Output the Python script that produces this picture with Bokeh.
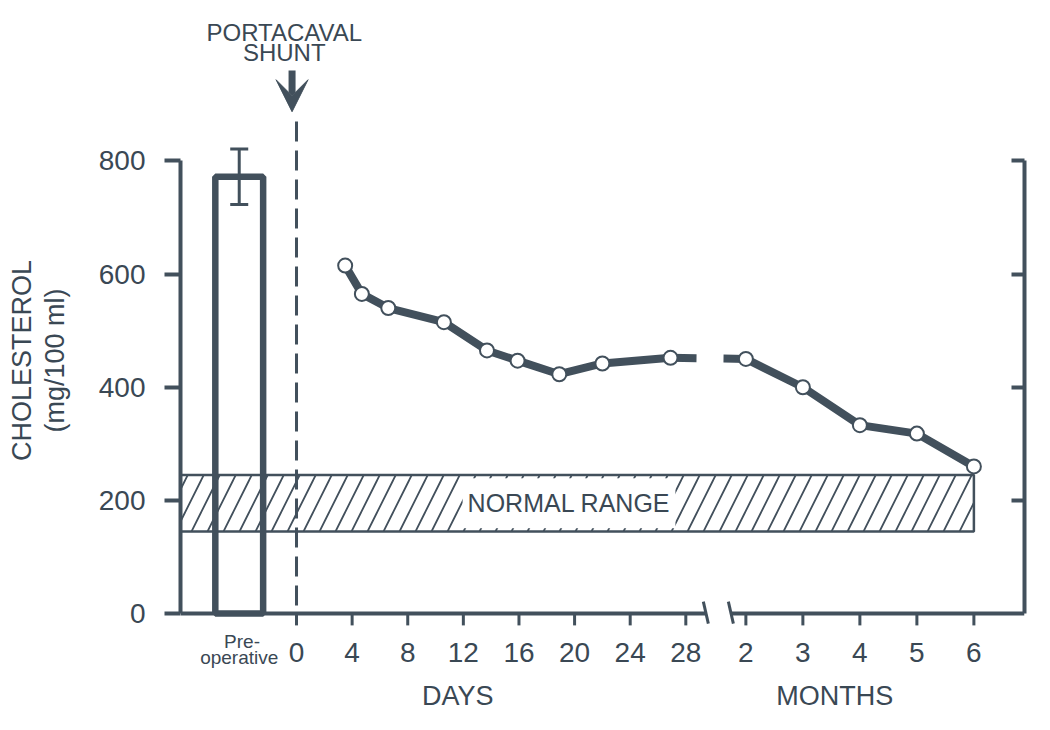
import math
from bokeh.plotting import figure
from bokeh.models import (Range1d, LinearAxis, FixedTicker, Label, Arrow, VeeHead,
                          Whisker, TeeHead, ColumnDataSource, Title)
from bokeh.core.properties import value
from bokeh.embed import file_html
from bokeh.resources import INLINE

# ---------------- data ----------------
PREOP_MEAN = 772
PREOP_SE = 49
DAYS = [3.5, 4.7, 6.6, 10.6, 13.7, 15.9, 18.9, 22.0, 26.9]
DAY_CHOL = [615, 565, 540, 515, 465, 447, 423, 442, 452]
MONTHS = [2, 3, 4, 5, 6]
MONTH_CHOL = [450, 400, 333, 318, 260]
NORMAL_LOW = 145
NORMAL_HIGH = 245
DAY_TICKS = [0, 4, 8, 12, 16, 20, 24, 28]
MONTH_TICKS = [2, 3, 4, 5, 6]
Y_TICKS = [0, 200, 400, 600, 800]
SHUNT_DAY = 0

# ---------------- layout / styling ----------------
FONT = "Liberation Sans"
INK = "#42505c"
TEXT = "#3a4854"

PREOP_POS = -1.03
MONTH_ORIGIN = 8.08
MONTH_STEP = 1.025
BREAK_L, BREAK_R = 7.36, 7.81
X_START, X_END = -2.086, 13.09
Y_START, Y_END = -189.1, 1083.6


def day_pos(d):
    return d / 4.0


def month_pos(m):
    return MONTH_ORIGIN + (m - 2) * MONTH_STEP


day_x = [day_pos(d) for d in DAYS]
month_x = [month_pos(m) for m in MONTHS]

p = figure(width=1040, height=720,
           x_range=Range1d(X_START, X_END), y_range=Range1d(Y_START, Y_END),
           output_backend="svg", toolbar_location=None,
           x_axis_location=None, y_axis_location="left",
           min_border_left=180, min_border_right=16,
           min_border_top=0, min_border_bottom=0)
p.outline_line_color = None
p.grid.visible = False
p.background_fill_color = "white"
p.border_fill_color = "white"

# ---- left axis ----
ya = p.yaxis[0]
ya.ticker = FixedTicker(ticks=Y_TICKS)
ya.bounds = (0, 800)
ya.axis_line_color = INK
ya.axis_line_width = 4
ya.major_tick_line_color = INK
ya.major_tick_line_width = 4
ya.major_tick_out = 16
ya.major_tick_in = 0
ya.minor_tick_line_color = None
ya.major_label_standoff = 19
ya.major_label_text_font = FONT
ya.major_label_text_font_size = "28px"
ya.major_label_text_color = TEXT
ya.axis_label = "(mg/100 ml)"
ya.axis_label_standoff = 26
ya.axis_label_text_font = FONT
ya.axis_label_text_font_size = "27px"
ya.axis_label_text_font_style = "normal"
ya.axis_label_text_color = TEXT

# outer line of the y-axis title
p.add_layout(Title(text="CHOLESTEROL", align="center", standoff=0,
                   text_font=FONT, text_font_size="27px", text_font_style="normal",
                   text_color=TEXT), "left")

# ---- right axis (unlabelled) ----
ra = LinearAxis(ticker=FixedTicker(ticks=Y_TICKS[1:]), bounds=(0, 800))
ra.axis_line_color = INK
ra.axis_line_width = 4
ra.major_tick_line_color = INK
ra.major_tick_line_width = 4
ra.major_tick_in = 13
ra.major_tick_out = 0
ra.minor_tick_line_color = None
ra.major_label_overrides = {t: "" for t in Y_TICKS[1:]}
ra.major_label_text_font_size = "8px"
p.add_layout(ra, "right")

# ---- bottom axis (with a break), drawn through the data scales ----
tick_pos = [day_pos(d) for d in DAY_TICKS] + [month_pos(m) for m in MONTH_TICKS]
tick_lab = [str(d) for d in DAY_TICKS] + [str(m) for m in MONTH_TICKS]
p.segment(x0=[X_START, BREAK_R], y0=[0, 0], x1=[BREAK_L, X_END], y1=[0, 0],
          line_color=INK, line_width=4)
p.segment(x0=tick_pos, y0=[0] * len(tick_pos), x1=tick_pos, y1=[-21] * len(tick_pos),
          line_color=INK, line_width=3)
p.segment(x0=[BREAK_L - 0.045, BREAK_R - 0.045], y0=[21, 21],
          x1=[BREAK_L + 0.045, BREAK_R + 0.045], y1=[-18, -18],
          line_color=INK, line_width=3)
p.text(x=tick_pos, y=[-69] * len(tick_pos), text=tick_lab,
       text_font=value(FONT), text_font_size="28px", text_color=TEXT,
       text_align="center", text_baseline="middle")

# ---- normal range ----
p.quad(left=[X_START], right=[month_pos(MONTHS[-1])], bottom=[NORMAL_LOW], top=[NORMAL_HIGH],
       fill_color="white", hatch_pattern="/", hatch_color=INK, hatch_weight=1.8,
       hatch_scale=32, line_color=INK, line_width=2.5)

# ---- pre-operative bar ----
p.vbar(x=[PREOP_POS], top=[PREOP_MEAN], bottom=0, width=0.86,
       fill_color=None, line_color=INK, line_width=6.5)
err_src = ColumnDataSource(dict(base=[PREOP_POS], lower=[PREOP_MEAN - PREOP_SE],
                                upper=[PREOP_MEAN + PREOP_SE]))
p.add_layout(Whisker(base="base", lower="lower", upper="upper", source=err_src,
                     line_color=INK, line_width=3,
                     upper_head=TeeHead(size=18, line_color=INK, line_width=3),
                     lower_head=TeeHead(size=18, line_color=INK, line_width=3)))

# ---- shunt marker ----
p.segment(x0=[SHUNT_DAY], y0=[14], x1=[SHUNT_DAY], y1=[870],
          line_color=INK, line_width=3, line_dash="20 9")
p.add_layout(Arrow(end=VeeHead(size=32, fill_color=INK, line_color=INK, line_width=1),
                   x_start=SHUNT_DAY - 0.08, y_start=960, x_end=SHUNT_DAY - 0.08, y_end=887,
                   line_color=INK, line_width=7))

# ---- cholesterol series ----
p.line(day_x, DAY_CHOL, line_color=INK, line_width=8, line_join="round")
p.line([day_x[-1], month_x[0]], [DAY_CHOL[-1], MONTH_CHOL[0]],
       line_color=INK, line_width=8, line_dash="26 27 100")
p.line(month_x, MONTH_CHOL, line_color=INK, line_width=8, line_join="round")
p.scatter(day_x + month_x, DAY_CHOL + MONTH_CHOL, size=14,
          fill_color="white", line_color=INK, line_width=2)

# ---- texts ----
def lab(x, y, text, size, **kw):
    p.add_layout(Label(x=x, y=y, text=text, text_font=FONT, text_font_size=size,
                       text_color=TEXT, text_align="center", text_baseline="middle", **kw))

lab(4.9, (NORMAL_LOW + NORMAL_HIGH) / 2, "NORMAL RANGE", "25px",
    background_fill_color="white", padding=(5, 11))
lab(SHUNT_DAY - 0.22, 1027, "PORTACAVAL", "24px")
lab(SHUNT_DAY - 0.22, 992, "SHUNT", "24px")
lab(PREOP_POS + 0.05, -50, "Pre-", "19px")
lab(PREOP_POS, -78, "operative", "19px")
lab(2.9, -146, "DAYS", "27px")
lab(9.68, -146, "MONTHS", "27px")

open("out.html", "w").write(file_html(p, INLINE))
